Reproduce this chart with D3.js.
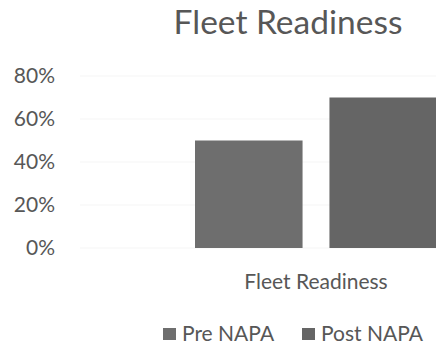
<!DOCTYPE html>
<html><head><meta charset="utf-8">
<script src="https://cdn.jsdelivr.net/npm/d3@7"></script>
<style>html,body{margin:0;padding:0;background:#fff;overflow:hidden}</style>
</head><body>
<svg id="c" width="436" height="345"></svg>
<script>
const categories = ["Fleet Readiness"];
const seriesNames = ["Pre NAPA", "Post NAPA"];
const preNapa = [0.50];
const postNapa = [0.70];
const yTicks = [0, 0.2, 0.4, 0.6, 0.8];
const colors = ["#6e6e6e", "#656565"];

const values = [preNapa, postNapa];
const svg = d3.select("#c");
const font = "Lato, 'Open Sans', sans-serif";
const textColor = "#575757";

const x0 = d3.scaleBand().domain(categories).range([80, 552]).padding(0);
const y = d3.scaleLinear().domain([0, 0.8]).range([248, 76]);
const outer = 115;
const x1 = d3.scaleBand().domain(seriesNames)
  .range([0, x0.bandwidth() - 2 * outer]).paddingInner(0.2);

// gridlines
svg.append("g").selectAll("line").data(yTicks).join("line")
  .attr("x1", 80).attr("x2", 552)
  .attr("y1", d => y(d)).attr("y2", d => y(d))
  .attr("stroke", "#f5f5f5").attr("stroke-width", 1);

// y axis labels
const yAxis = d3.axisLeft(y).tickValues(yTicks).tickFormat(d3.format(".0%")).tickSize(0).tickPadding(0);
const gy = svg.append("g").attr("transform", "translate(55,0)").call(yAxis);
gy.select(".domain").remove();
gy.selectAll("text").attr("font-family", font).attr("font-size", 21).attr("fill", textColor);

// bars
const gc = svg.append("g").selectAll("g").data(categories).join("g")
  .attr("transform", d => `translate(${x0(d) + outer},0)`);
seriesNames.forEach((s, si) => {
  gc.append("rect")
    .attr("x", x1(s)).attr("width", x1.bandwidth())
    .attr("y", (d, i) => y(values[si][i]))
    .attr("height", (d, i) => y(0) - y(values[si][i]))
    .attr("fill", colors[si]);
});

// category axis label
svg.append("g").selectAll("text").data(categories).join("text")
  .attr("x", d => x0(d) + x0.bandwidth() / 2).attr("y", 289)
  .attr("text-anchor", "middle").attr("font-family", font).attr("font-size", 21)
  .attr("fill", textColor).text(d => d);

// title
svg.append("text").attr("x", 288).attr("y", 34).attr("text-anchor", "middle")
  .attr("font-family", font).attr("font-size", 33.5).attr("fill", textColor)
  .text("Fleet Readiness");

// legend
const legendX = [163, 302];
const lg = svg.append("g").selectAll("g").data(seriesNames).join("g")
  .attr("transform", (d, i) => `translate(${legendX[i]},0)`);
lg.append("rect").attr("x", 0).attr("y", 328).attr("width", 13).attr("height", 12)
  .attr("fill", (d, i) => colors[i]);
lg.append("text").attr("x", 19).attr("y", 341)
  .attr("font-family", font).attr("font-size", 21).attr("fill", textColor).text(d => d);
</script>
</body></html>
